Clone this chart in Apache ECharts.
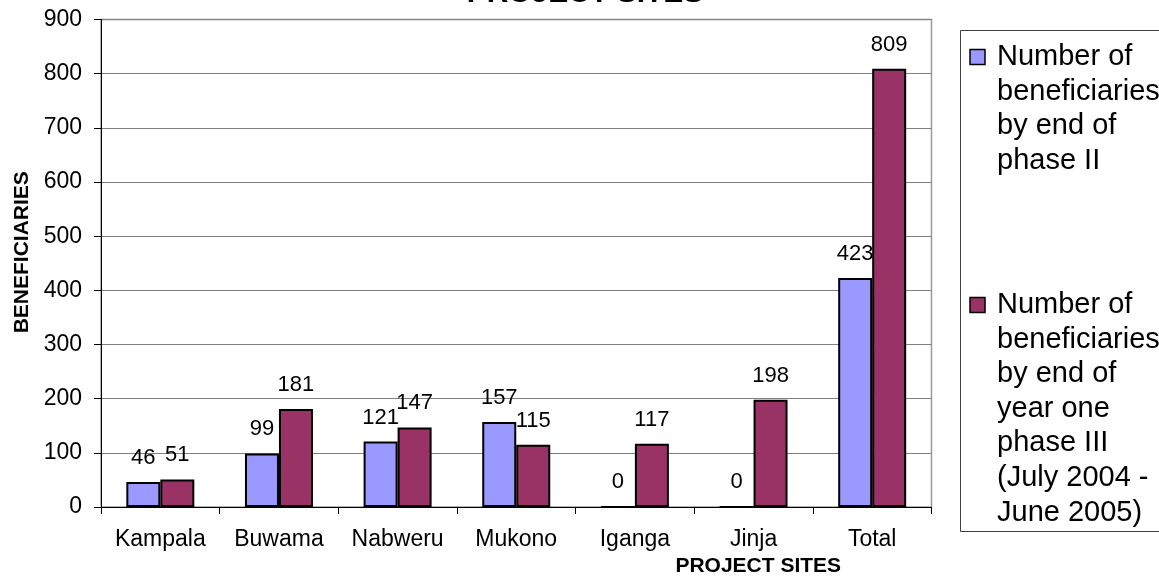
<!DOCTYPE html>
<html>
<head>
<meta charset="utf-8">
<script src="https://cdn.jsdelivr.net/npm/echarts@6/dist/echarts.min.js"></script>
<style>
  html, body { margin: 0; padding: 0; background: #ffffff; }
  #chart { width: 1159px; height: 582px; }
</style>
</head>
<body>
<div id="chart"></div>
<script>
// Project sites and beneficiaries per phase
const categories = ['Kampala', 'Buwama', 'Nabweru', 'Mukono', 'Iganga', 'Jinja', 'Total'];
const phaseTwo = [46, 99, 121, 157, 0, 0, 423];
const phaseThreeYearOne = [51, 181, 147, 115, 117, 198, 809];
const seriesNames = [
  'Number of beneficiaries by end of phase II',
  'Number of beneficiaries by end of year one phase III (July 2004 - June 2005)'
];
// legend text, broken into lines as it is laid out in the legend box
const legendLines = [
  ['Number of', 'beneficiaries', 'by end of', 'phase II'],
  ['Number of', 'beneficiaries', 'by end of', 'year one', 'phase III', '(July 2004 -', 'June 2005)']
];
const seriesColors = ['#9999FF', '#993366'];
const yTicks = { min: 0, max: 900, interval: 100 };

const FONT = '"Liberation Sans", Arial, sans-serif';

const chart = echarts.init(document.getElementById('chart'), null, { renderer: 'canvas' });

// legend box drawn as graphic elements (icon aligned with the first text line)
const legendGraphics = [
  {
    type: 'rect',
    shape: { x: 960.5, y: 30.5, width: 260, height: 501 },
    style: { fill: '#ffffff', stroke: '#404040', lineWidth: 1 },
    z: 10
  }
];
const legendFirstLineY = [57, 305];
const legendLineHeight = 34.6;
legendLines.forEach(function (lines, i) {
  legendGraphics.push({
    type: 'rect',
    shape: { x: 970, y: legendFirstLineY[i] - 7.5, width: 15, height: 15 },
    style: { fill: seriesColors[i], stroke: '#000000', lineWidth: 1.5 },
    z: 11
  });
  legendGraphics.push({
    type: 'text',
    x: 997,
    y: legendFirstLineY[i] - legendLineHeight / 2,
    style: {
      text: lines.join('\n'),
      font: '29px ' + FONT,
      lineHeight: legendLineHeight,
      fill: '#000000',
      align: 'left',
      verticalAlign: 'top'
    },
    z: 11
  });
});

const barLabel = {
  show: true,
  position: 'top',
  distance: 13,
  color: '#000000',
  fontFamily: FONT,
  fontSize: 22
};

const option = {
  animation: false,
  backgroundColor: '#ffffff',
  textStyle: { fontFamily: FONT },
  title: {
    text: 'PROJECT SITES',
    left: 585,
    textAlign: 'center',
    top: -21,
    padding: 0,
    textStyle: { fontFamily: FONT, fontSize: 30, fontWeight: 'bold', color: '#000000' }
  },
  grid: {
    left: 101,
    right: 227.5,
    top: 19.5,
    bottom: 72,
    show: true,
    borderColor: '#999999',
    borderWidth: 1.5,
    backgroundColor: 'transparent'
  },
  xAxis: {
    type: 'category',
    data: categories,
    name: 'PROJECT SITES',
    nameLocation: 'middle',
    nameGap: 49,
    nameTextStyle: {
      fontFamily: FONT, fontSize: 21, fontWeight: 'bold', color: '#000000',
      padding: [0, 0, 0, 484]
    },
    axisLine: { show: true, lineStyle: { color: '#000000', width: 1 } },
    axisTick: { show: true, length: 7, inside: false, lineStyle: { color: '#000000', width: 1 } },
    axisLabel: { interval: 0, color: '#000000', fontFamily: FONT, fontSize: 23, margin: 21 },
    splitLine: { show: false }
  },
  yAxis: {
    type: 'value',
    min: yTicks.min,
    max: yTicks.max,
    interval: yTicks.interval,
    name: 'BENEFICIARIES',
    nameLocation: 'middle',
    nameGap: 63,
    nameRotate: 90,
    nameTextStyle: {
      fontFamily: FONT, fontSize: 21, fontWeight: 'bold', color: '#000000',
      padding: [0, 0, 0, 22]
    },
    axisLine: { show: true, lineStyle: { color: '#000000', width: 1 } },
    axisTick: { show: true, length: 7, inside: false, lineStyle: { color: '#000000', width: 1 } },
    axisLabel: { color: '#000000', fontFamily: FONT, fontSize: 23, margin: 19 },
    splitLine: { show: true, lineStyle: { color: '#808080', width: 1.2 } }
  },
  series: [
    {
      name: seriesNames[0],
      type: 'bar',
      data: phaseTwo,
      barWidth: 34,
      barGap: '0%',
      itemStyle: { color: seriesColors[0], borderColor: '#000000', borderWidth: 2 },
      label: barLabel
    },
    {
      name: seriesNames[1],
      type: 'bar',
      data: phaseThreeYearOne,
      barWidth: 34,
      barGap: '0%',
      itemStyle: { color: seriesColors[1], borderColor: '#000000', borderWidth: 2 },
      label: barLabel
    }
  ],
  graphic: legendGraphics
};

chart.setOption(option);
</script>
</body>
</html>
